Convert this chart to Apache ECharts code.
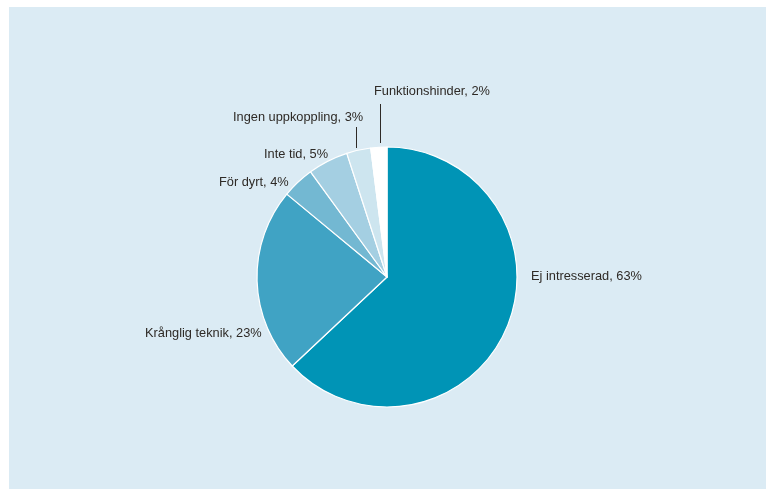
<!DOCTYPE html>
<html>
<head>
<meta charset="utf-8">
<script src="https://cdn.jsdelivr.net/npm/echarts@6/dist/echarts.min.js"></script>
<style>
html,body{margin:0;padding:0;background:#ffffff;}
#chart{width:766px;height:489px;}
</style>
</head>
<body>
<div id="chart"></div>
<script>
const categories = ["Ej intresserad", "Krånglig teknik", "För dyrt", "Inte tid", "Ingen uppkoppling", "Funktionshinder"];
const values = [63, 23, 4, 5, 3, 2];
const colors = ["#0094b6", "#40a3c4", "#73b8d2", "#a4cfe2", "#cde5ef", "#ffffff"];

const labelPos = [
  {x: 531, y: 276},
  {x: 145, y: 333},
  {x: 219, y: 182},
  {x: 264, y: 154},
  {x: 233, y: 117},
  {x: 374, y: 91}
];
const linePts = {
  4: [[356.5, 148], [356.5, 138], [356.5, 127]],
  5: [[380.5, 143], [380.5, 124], [380.5, 104]]
};

const chart = echarts.init(document.getElementById('chart'), null, {renderer: 'canvas'});
chart.setOption({
  animation: false,
  graphic: [{
    type: 'rect', shape: {x: 9, y: 7, width: 757, height: 482},
    style: {fill: '#dbebf4'}, z: -1, silent: true
  }],
  series: [{
    type: 'pie',
    center: [387, 277],
    radius: [0, 130],
    startAngle: 90,
    clockwise: true,
    avoidLabelOverlap: false,
    itemStyle: {borderColor: '#ffffff', borderWidth: 1.2},
    label: {
      show: true,
      formatter: p => p.name + ', ' + p.value + '%',
      fontFamily: 'Liberation Sans, Arial, sans-serif',
      fontSize: 12.8,
      color: '#2e2a26'
    },
    labelLine: {show: false, lineStyle: {color: '#2e2a26', width: 1}},
    labelLayout: function (params) {
      const i = params.dataIndex;
      const r = {x: labelPos[i].x, y: labelPos[i].y, align: 'left', verticalAlign: 'middle'};
      if (linePts[i]) r.labelLinePoints = linePts[i];
      return r;
    },
    data: categories.map((c, i) => ({
      name: c,
      value: values[i],
      itemStyle: {color: colors[i]},
      labelLine: {show: !!linePts[i], length: 10, length2: 10}
    }))
  }]
});
</script>
</body>
</html>
